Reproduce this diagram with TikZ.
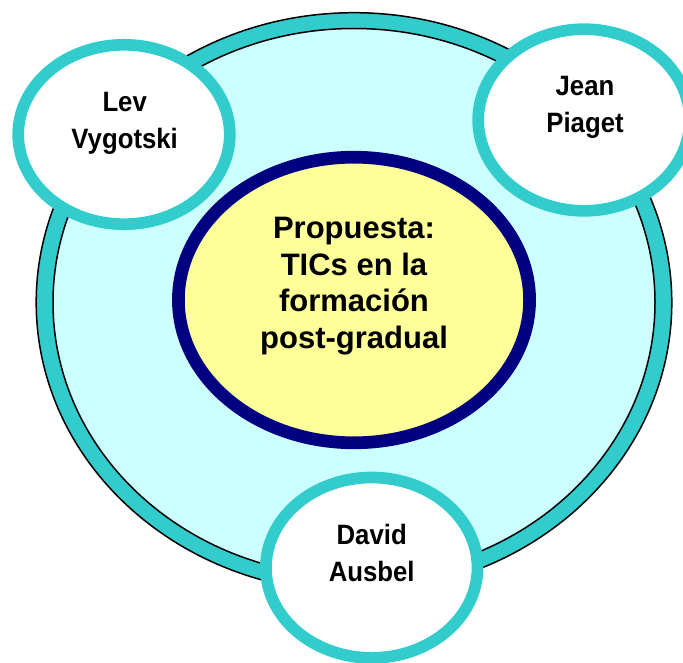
\documentclass[tikz,border=0pt]{standalone}
\usepackage{fontspec}
\setmainfont{Liberation Sans}
\newfontfamily\namefont{Liberation Sans}[FakeStretch=0.92]
\definecolor{ringteal}{HTML}{33CCCC}
\definecolor{paleCyan}{HTML}{CCFFFF}
\definecolor{softYellow}{HTML}{FFFF99}
\definecolor{deepNavy}{HTML}{000080}
\tikzset{
  ringline/.style={draw=black, line width=1.5pt},
  authorbubble/.style={fill=white, draw=ringteal, line width=11.7pt},
  authortext/.style={align=center, inner sep=0pt, font=\namefont\bfseries\fontsize{28}{36.7}\selectfont},
  coretext/.style={align=center, inner sep=0pt, font=\bfseries\fontsize{31}{36.7}\selectfont},
}
\begin{document}
\begin{tikzpicture}[x=1pt, y=-1pt]
  \useasboundingbox (0,0) rectangle (683,663);
  % outer ring: teal band between two black outlines
  \coordinate (ringc) at (354,302.5);
  \path[ringline, fill=ringteal] (ringc) ellipse [x radius=317.8pt, y radius=289.8pt];
  \path[ringline, fill=paleCyan] (ringc) ellipse [x radius=301pt, y radius=274pt];
  % central proposal
  \coordinate (corec) at (354,300);
  \path[fill=softYellow, draw=deepNavy, line width=12.7pt] (corec) ellipse [x radius=175.6pt, y radius=142.8pt];
  \node[coretext] (core) at (354,286) {Propuesta:\\TICs en la\\formación\\post-gradual};
  % author bubbles around the ring
  \coordinate (levc) at (124,134.5);
  \coordinate (jeanc) at (584,120);
  \coordinate (davidc) at (371.7,567.7);
  \path[authorbubble] (levc) ellipse [x radius=105.8pt, y radius=89.7pt];
  \path[authorbubble] (jeanc) ellipse [x radius=105.8pt, y radius=90.8pt];
  \path[authorbubble] (davidc) ellipse [x radius=105.8pt, y radius=90.2pt];
  \node[authortext] (lev) at (124.7,123) {Lev\\Vygotski};
  \node[authortext] (jean) at (585,107.3) {Jean\\Piaget};
  \node[authortext] (david) at (371.7,553) {David\\Ausbel};
\end{tikzpicture}
\end{document}
